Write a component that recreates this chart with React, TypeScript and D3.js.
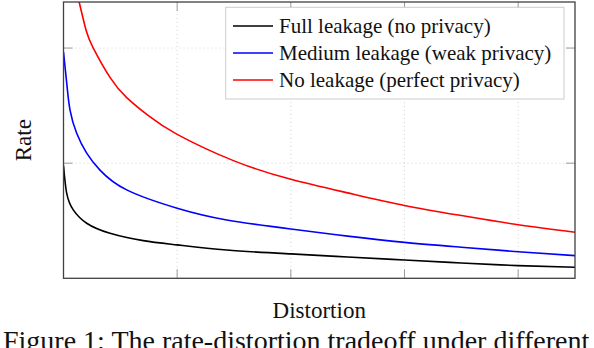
import React from "react";
import * as d3 from "d3";

// distortion positions (x) sampled along each curve, and the rate read at each one
const fullX = [0, 0.028, 0.086, 0.204, 0.409, 0.702, 1, 1.436, 2, 2.5, 3, 3.5, 4, 4.5];
const fullY = [0.98, 0.74, 0.594, 0.478, 0.391, 0.327, 0.29, 0.246, 0.212, 0.185, 0.159, 0.133, 0.11, 0.096];

const mediumX = [0, 0.028, 0.057, 0.116, 0.204, 0.321, 0.556, 1, 1.436, 2, 2.5, 3, 3.5, 4, 4.5];
const mediumY = [1.965, 1.7, 1.463, 1.26, 1.087, 0.94, 0.768, 0.609, 0.507, 0.428, 0.366, 0.312, 0.27, 0.231, 0.197];

const noneX = [0.1, 0.145, 0.2, 0.262, 0.409, 0.556, 0.75, 1, 1.5, 2, 2.5, 3, 3.5, 4, 4.5];
const noneY = [2.56, 2.37, 2.15, 2.0, 1.745, 1.57, 1.41, 1.25, 1.02, 0.86, 0.742, 0.633, 0.545, 0.465, 0.4];

const seriesNames = [
  "Full leakage (no privacy)",
  "Medium leakage (weak privacy)",
  "No leakage (perfect privacy)",
];
const seriesColors = ["#000000", "#0000ff", "#ff0000"];

const xTicks = [1, 2, 3, 4];
const yTicks = [1, 2];

const width = 594,
  height = 348;
const left = 63.5,
  right = 575,
  top = 2,
  bottom = 278.3;

const serif = "'Liberation Serif', 'Times New Roman', Times, serif";

export default function App() {
  const x = d3.scaleLinear().domain([0, 4.5]).range([left, right]);
  const y = d3.scaleLinear().domain([0, 2.4]).range([bottom, top]);

  const line = d3
    .line<[number, number]>()
    .x((d) => x(d[0]))
    .y((d) => y(d[1]))
    .curve(d3.curveNatural);

  const series = [
    d3.zip(fullX, fullY),
    d3.zip(mediumX, mediumY),
    d3.zip(noneX, noneY),
  ] as [number, number][][];

  const tickLen = 9;

  // legend box
  const lgX = 225.7,
    lgY = 7.3,
    lgW = 338.3,
    lgH = 91.7;
  const rowY = [26, 53, 80];

  return (
    <svg
      width={width}
      height={height}
      style={{ position: "absolute", left: 0, top: 0 }}
    >
      <defs>
        <clipPath id="plot">
          <rect x={left} y={top} width={right - left} height={bottom - top} />
        </clipPath>
      </defs>
      <rect width={width} height={height} fill="#fff" />

      {/* grid */}
      {xTicks.map((t) => (
        <line
          key={"gx" + t}
          x1={x(t)}
          x2={x(t)}
          y1={top}
          y2={bottom}
          stroke="#d4d4d4"
          strokeWidth={1}
          strokeDasharray="1,3"
        />
      ))}
      {yTicks.map((t) => (
        <line
          key={"gy" + t}
          x1={left}
          x2={right}
          y1={y(t)}
          y2={y(t)}
          stroke="#d4d4d4"
          strokeWidth={1}
          strokeDasharray="1,3"
        />
      ))}

      {/* tick marks on all four sides, pointing in */}
      {xTicks.map((t) => (
        <g key={"tx" + t} stroke="#9a9a9a" strokeWidth={1}>
          <line x1={x(t)} x2={x(t)} y1={bottom} y2={bottom - tickLen} />
          <line x1={x(t)} x2={x(t)} y1={top} y2={top + tickLen} />
        </g>
      ))}
      {yTicks.map((t) => (
        <g key={"ty" + t} stroke="#9a9a9a" strokeWidth={1}>
          <line x1={left} x2={left + tickLen} y1={y(t)} y2={y(t)} />
          <line x1={right} x2={right - tickLen} y1={y(t)} y2={y(t)} />
        </g>
      ))}

      {/* curves */}
      <g clipPath="url(#plot)">
        {series.map((s, i) => (
          <path
            key={i}
            d={line(s) || ""}
            fill="none"
            stroke={seriesColors[i]}
            strokeWidth={1.6}
          />
        ))}
      </g>

      {/* frame */}
      <rect
        x={left}
        y={top}
        width={right - left}
        height={bottom - top}
        fill="none"
        stroke="#404040"
        strokeWidth={1.3}
      />

      {/* legend */}
      <rect
        x={lgX}
        y={lgY}
        width={lgW}
        height={lgH}
        fill="#fff"
        stroke="#cccccc"
        strokeWidth={1}
      />
      {seriesNames.map((name, i) => (
        <g key={name}>
          <line
            x1={233}
            x2={273}
            y1={rowY[i]}
            y2={rowY[i]}
            stroke={seriesColors[i]}
            strokeWidth={1.6}
          />
          <text
            x={279}
            y={rowY[i] + 7}
            fontSize={21}
            fontFamily={serif}
            fill="#111"
          >
            {name}
          </text>
        </g>
      ))}

      {/* axis labels */}
      <text
        x={(left + right) / 2}
        y={318}
        fontSize={23}
        fontFamily={serif}
        textAnchor="middle"
        fill="#111"
      >
        Distortion
      </text>
      <text
        transform={`translate(31,${(top + bottom) / 2}) rotate(-90)`}
        fontSize={23}
        fontFamily={serif}
        textAnchor="middle"
        fill="#111"
      >
        Rate
      </text>

      {/* caption, cut off at the bottom edge as in the source */}
      <text x={3} y={350} fontSize={28} fontFamily={serif} fill="#111">
        Figure 1: The rate-distortion tradeoff under different
      </text>
    </svg>
  );
}
